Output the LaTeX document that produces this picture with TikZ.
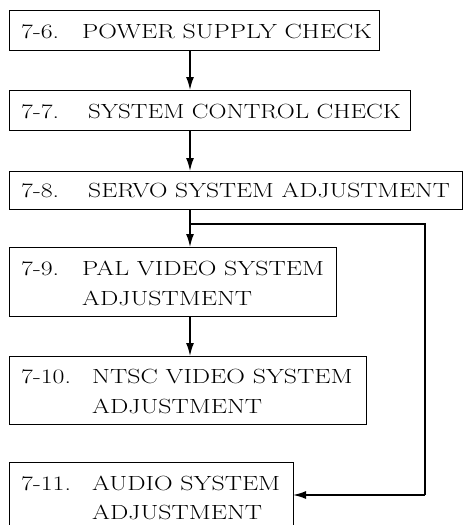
\documentclass[tikz,border=0pt]{standalone}
\usepackage{graphicx}
\usepackage{fontspec}
\setmainfont{Latin Modern Roman}[FakeStretch=1.26]
\usetikzlibrary{arrows.meta}
\begin{document}
\begin{tikzpicture}[x=1pt,y=-1pt,
  box/.style={draw,line width=0.9pt,inner sep=0pt,outer sep=0pt,anchor=north west},
  txt/.style={anchor=base west,inner sep=0pt,font=\fontsize{20.5}{24}\selectfont},
  arr/.style={-{Latex[length=13pt,width=8pt]},line width=1.6pt},
  wire/.style={line width=1.6pt}]
\clip (0,0) rectangle (464,525);
\useasboundingbox (0,0) rectangle (464,525);
% boxes
\node[box,minimum width=370pt,minimum height=40pt] (b1) at (9,10) {};
\node[box,minimum width=401pt,minimum height=40pt] (b2) at (9,90) {};
\node[box,minimum width=453pt,minimum height=38pt] (b3) at (9,171) {};
\node[box,minimum width=327pt,minimum height=69pt] (b4) at (9,247) {};
\node[box,minimum width=357pt,minimum height=68pt] (b5) at (9,356) {};
\node[box,minimum width=284pt,minimum height=80pt] (b6) at (9,462) {};
% texts
\node[txt] (n1) at (21,38) {7-6.};
\node[txt] (t1) at (82,38) {POWER SUPPLY CHECK};
\node[txt] (n2) at (21,118) {7-7.};
\node[txt] (t2) at (88,118) {\scalebox{0.965}[1]{SYSTEM CONTROL CHECK}};
\node[txt] (n3) at (21,197) {7-8.};
\node[txt] (t3) at (88,197) {\scalebox{0.99}[1]{SERVO SYSTEM ADJUSTMENT}};
\node[txt] (n4) at (21,275) {7-9.};
\node[txt] (t4) at (82,275) {PAL VIDEO SYSTEM};
\node[txt] (u4) at (82,305) {ADJUSTMENT};
\node[txt] (n5) at (21,383) {7-10.};
\node[txt] (t5) at (92,383) {NTSC VIDEO SYSTEM};
\node[txt] (u5) at (92,413) {ADJUSTMENT};
\node[txt] (n6) at (21,490) {7-11.};
\node[txt] (t6) at (92,490) {AUDIO SYSTEM};
\node[txt] (u6) at (92,519) {ADJUSTMENT};
% connectors
\coordinate (ax) at (190,0);
\coordinate (jn) at (190,224);
\coordinate (cr) at (425,224);
\coordinate (cb) at (425,495);
\draw[arr] (b1.south -| ax) -- (b2.north -| ax);
\draw[arr] (b2.south -| ax) -- (b3.north -| ax);
\draw[arr] (b3.south -| ax) -- (b4.north -| ax);
\draw[arr] (b4.south -| ax) -- (b5.north -| ax);
\draw[wire] (jn) -- (cr) -- (cb);
\draw[arr] (cb) -- (cb -| b6.east);
\end{tikzpicture}
\end{document}
